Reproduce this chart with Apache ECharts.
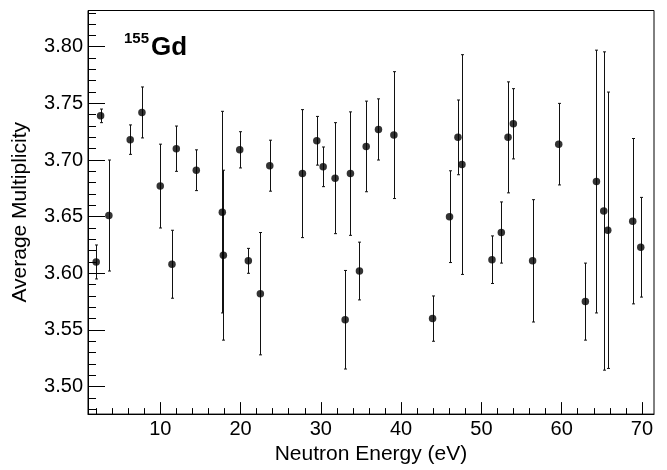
<!DOCTYPE html>
<html>
<head>
<meta charset="utf-8">
<script src="https://cdn.jsdelivr.net/npm/echarts@6/dist/echarts.min.js"></script>
<style>
html,body{margin:0;padding:0;background:#fff;}
#chart{width:667px;height:470px;}
</style>
</head>
<body>
<div id="chart"></div>
<script>
// Data
const energy = [2.02, 2.57, 3.60, 6.26, 7.72, 10.0, 11.46, 12.0, 14.49, 17.73, 17.86, 19.9, 20.97, 22.47, 23.64,
  27.71, 29.5, 30.29, 31.78, 33.03, 33.69, 34.81, 35.65, 37.18, 39.1, 43.92, 46.03, 47.08, 47.58,
  51.32, 52.48, 53.32, 53.98, 56.38, 59.63, 62.95, 64.33, 65.24, 65.74, 68.85, 69.85];
const multiplicity = [3.610, 3.739, 3.651, 3.718, 3.742, 3.677, 3.608, 3.710, 3.691, 3.654, 3.616, 3.709, 3.611, 3.582, 3.695,
  3.688, 3.717, 3.694, 3.684, 3.559, 3.688, 3.602, 3.712, 3.727, 3.722, 3.560, 3.650, 3.720, 3.696,
  3.612, 3.636, 3.720, 3.732, 3.611, 3.714, 3.575, 3.681, 3.655, 3.638, 3.646, 3.623];
const errors = [0.015, 0.006, 0.049, 0.013, 0.0225, 0.037, 0.030, 0.020, 0.018, 0.089, 0.075, 0.016, 0.011, 0.054, 0.0225,
  0.0565, 0.0215, 0.0175, 0.049, 0.0435, 0.0545, 0.0255, 0.040, 0.027, 0.056, 0.020, 0.0405, 0.033, 0.097,
  0.021, 0.027, 0.049, 0.031, 0.054, 0.036, 0.034, 0.116, 0.1405, 0.122, 0.073, 0.044];
const xMajorTicks = [10, 20, 30, 40, 50, 60, 70];
const xMinorTicks = [2, 4, 6, 8, 12, 14, 16, 18, 22, 24, 26, 28, 32, 34, 36, 38, 42, 44, 46, 48, 52, 54, 56, 58, 62, 64, 66, 68, 70];
const yMajorTicks = [3.50, 3.55, 3.60, 3.65, 3.70, 3.75, 3.80];
const yMinorTicks = [3.48, 3.49, 3.51, 3.52, 3.53, 3.54, 3.56, 3.57, 3.58, 3.59, 3.61, 3.62, 3.63, 3.64, 3.66, 3.67, 3.68, 3.69,
  3.71, 3.72, 3.73, 3.74, 3.76, 3.77, 3.78, 3.79, 3.81, 3.82, 3.83];
const xTitle = 'Neutron Energy (eV)';
const yTitle = 'Average Multiplicity';

const points = energy.map((e, i) => [e, multiplicity[i], errors[i]]);
const FONT = 'Liberation Sans, Arial, Helvetica, sans-serif';
const X_MIN = 1, X_MAX = 71.5, Y_MIN = 3.4757, Y_MAX = 3.832;

const chart = echarts.init(document.getElementById('chart'), null, {renderer: 'canvas'});
chart.setOption({
  animation: false,
  backgroundColor: '#fff',
  grid: {left: 88, right: 13, top: 10.5, bottom: 52, show: true, borderColor: '#000', borderWidth: 1, backgroundColor: 'transparent'},
  xAxis: [{
    type: 'value', min: X_MIN, max: X_MAX,
    axisLine: {show: true, lineStyle: {color: '#000', width: 1}},
    splitLine: {show: false},
    axisTick: {show: true, inside: true, length: 12, customValues: xMajorTicks, lineStyle: {color: '#000', width: 1}},
    axisLabel: {customValues: xMajorTicks, color: '#000', fontFamily: FONT, fontSize: 20, margin: 5},
    name: xTitle, nameLocation: 'middle', nameGap: 29,
    nameTextStyle: {color: '#000', fontFamily: FONT, fontSize: 21}
  }, {
    type: 'value', min: X_MIN, max: X_MAX, position: 'bottom',
    axisLine: {show: false}, splitLine: {show: false},
    axisTick: {show: true, inside: true, length: 6, customValues: xMinorTicks, lineStyle: {color: '#000', width: 1}},
    axisLabel: {show: false}
  }],
  yAxis: [{
    type: 'value', min: Y_MIN, max: Y_MAX,
    axisLine: {show: true, lineStyle: {color: '#000', width: 1}},
    splitLine: {show: false},
    axisTick: {show: true, inside: true, length: 17, customValues: yMajorTicks, lineStyle: {color: '#000', width: 1}},
    axisLabel: {customValues: yMajorTicks, formatter: v => v.toFixed(2), color: '#000', fontFamily: FONT, fontSize: 20, margin: 5},
    name: yTitle, nameLocation: 'middle', nameGap: 57,
    nameTextStyle: {color: '#000', fontFamily: FONT, fontSize: 21}
  }, {
    type: 'value', min: Y_MIN, max: Y_MAX, position: 'left',
    axisLine: {show: false}, splitLine: {show: false},
    axisTick: {show: true, inside: true, length: 8, customValues: yMinorTicks, lineStyle: {color: '#000', width: 1}},
    axisLabel: {show: false}
  }],
  graphic: [
    {type: 'text', left: 124, top: 31, style: {text: '155', font: 'bold 15px ' + FONT, fill: '#000'}},
    {type: 'text', left: 151, top: 35, style: {text: 'Gd', font: 'bold 26px ' + FONT, fill: '#000'}}
  ],
  series: [{
    type: 'custom',
    xAxisIndex: 0, yAxisIndex: 0,
    data: points,
    renderItem: function (params, api) {
      const x = api.value(0), y = api.value(1), e = api.value(2);
      const t = api.coord([x, y + e]);
      const b = api.coord([x, y - e]);
      const px = Math.round(t[0]) + 0.5;
      const style = {stroke: '#111', lineWidth: 1};
      return {
        type: 'group',
        children: [
          {type: 'line', shape: {x1: px, y1: t[1], x2: px, y2: b[1]}, style: style},
          {type: 'line', shape: {x1: px - 1.5, y1: t[1], x2: px + 1.5, y2: t[1]}, style: style},
          {type: 'line', shape: {x1: px - 1.5, y1: b[1], x2: px + 1.5, y2: b[1]}, style: style}
        ]
      };
    },
    encode: {x: 0, y: 1}
  }, {
    type: 'scatter',
    xAxisIndex: 0, yAxisIndex: 0,
    data: points.map(p => [p[0], p[1]]),
    symbol: 'circle', symbolSize: 7.5,
    itemStyle: {color: '#000'}
  }]
});
</script>
</body>
</html>
